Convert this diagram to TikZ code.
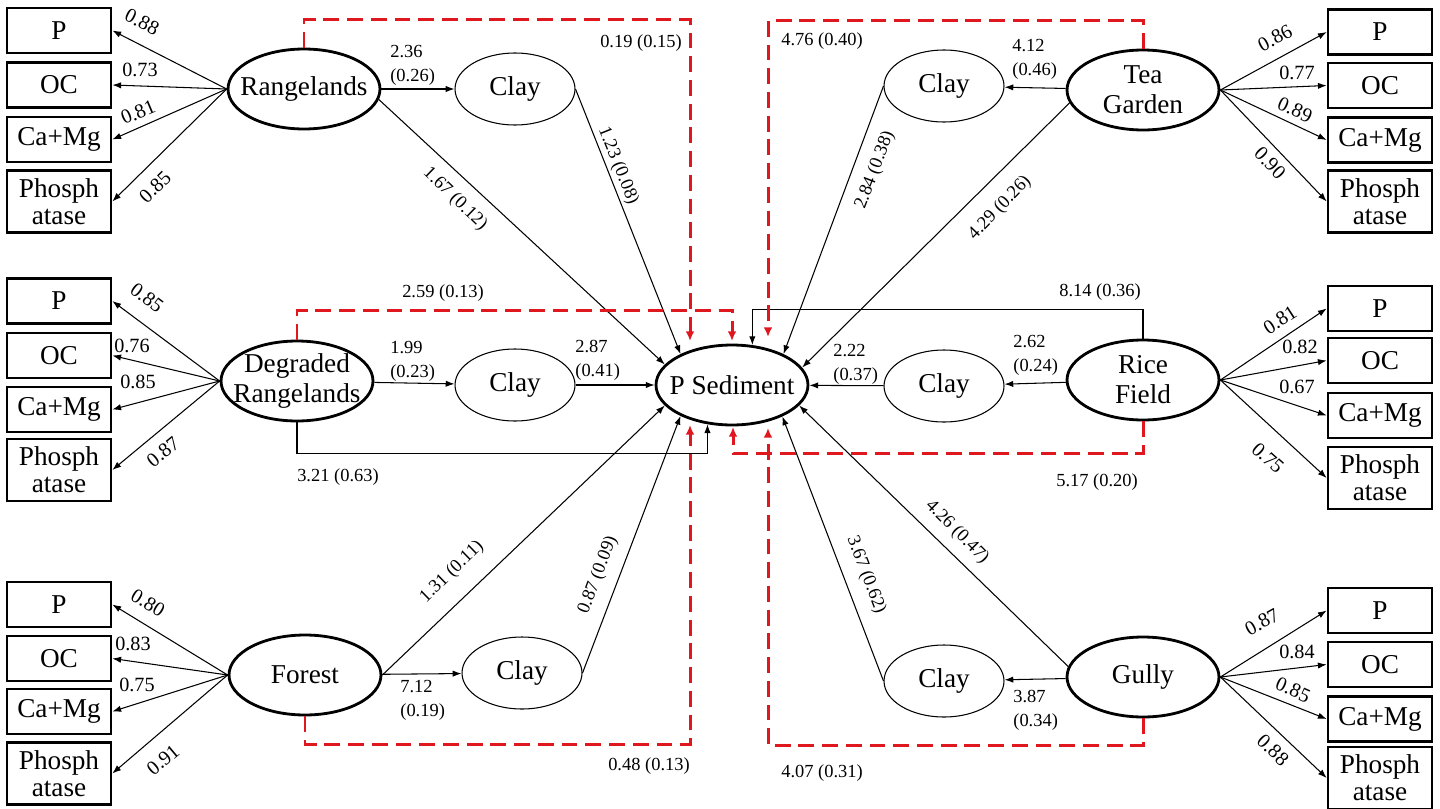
\documentclass[tikz,border=0pt]{standalone}
\usepackage{fontspec}
\setmainfont{Liberation Serif}
\usetikzlibrary{shapes.geometric,arrows.meta}
\definecolor{rd}{RGB}{222,24,30}
\newcommand{\bigfnt}{\fontsize{15.5}{17}\selectfont}
\newcommand{\indfnt}{\fontsize{15.5}{15.3}\selectfont}
\newcommand{\labfnt}{\fontsize{10.5}{13.6}\selectfont}
\newcommand{\ldfnt}{\fontsize{11.5}{12}\selectfont}
\begin{document}
\begin{tikzpicture}[x=0.02cm, y=-0.02cm,
  lat/.style={ellipse, draw, line width=1.6pt, minimum width=3.04cm, minimum height=1.6cm, inner sep=0pt,
    label={[align=center, font=\bigfnt, inner sep=0pt]center:#1}},
  clay/.style={ellipse, draw, line width=0.6pt, minimum width=2.4cm, minimum height=1.44cm, inner sep=0pt, font=\bigfnt},
  ind/.style={draw, line width=1.5pt, minimum width=2.08cm, minimum height=0.9cm, inner sep=0pt, align=center, font=\indfnt},
  indp/.style={ind, minimum height=1.24cm},
  arr/.style={line width=0.6pt, -{Latex[length=5pt,width=3.6pt]}},
  rdash/.style={draw=rd, line width=1.7pt, dash pattern=on 9pt off 4.5pt, -{Latex[length=5.5pt,width=5pt]}},
  lab/.style={font=\labfnt, inner sep=0pt, align=left},
  ld/.style={font=\ldfnt, inner sep=0pt}]
\useasboundingbox (0,0) rectangle (1440,808);

% latent variables
\node[lat={Rangelands}] (rang) at (304,89) {};
\node[lat={Degraded\\Rangelands}] (degr) at (297,381) {};
\node[lat={Forest}] (forest) at (305,675) {};
\node[lat={Tea\\Garden}] (tea) at (1143,90) {};
\node[lat={Rice\\Field}] (rice) at (1143,380) {};
\node[lat={Gully}] (gully) at (1143,677) {};
\node[lat={P Sediment}] (psed) at (732,385) {};

% clay
\node[clay] (clayA) at (515,89) {Clay};
\node[clay] (clayB) at (515,385) {Clay};
\node[clay] (clayC) at (522,673) {Clay};
\node[clay] (clayD) at (944,86) {Clay};
\node[clay] (clayE) at (944,386) {Clay};
\node[clay] (clayF) at (944,681) {Clay};

% indicator boxes left
\node[ind] (aP) at (59,30.5) {P};
\node[ind] (aO) at (59,85) {OC};
\node[ind] (aC) at (59,139.5) {Ca+Mg};
\node[indp] (aH) at (59,201.5) {Phosph\\atase};
\node[ind] (bP) at (59,301) {P};
\node[ind] (bO) at (59,355.5) {OC};
\node[ind] (bC) at (59,409.5) {Ca+Mg};
\node[indp] (bH) at (59,470) {Phosph\\atase};
\node[ind] (cP) at (59,604.5) {P};
\node[ind] (cO) at (59,658.5) {OC};
\node[ind] (cC) at (59,711.5) {Ca+Mg};
\node[indp] (cH) at (59,773.5) {Phosph\\atase};
% indicator boxes right
\node[ind] (dP) at (1380,32) {P};
\node[ind] (dO) at (1380,85.5) {OC};
\node[ind] (dC) at (1380,140) {Ca+Mg};
\node[indp] (dH) at (1380,201.5) {Phosph\\atase};
\node[ind] (eP) at (1380,308.5) {P};
\node[ind] (eO) at (1380,360.5) {OC};
\node[ind] (eC) at (1380,415.5) {Ca+Mg};
\node[indp] (eH) at (1380,478) {Phosph\\atase};
\node[ind] (fP) at (1380,610.5) {P};
\node[ind] (fO) at (1380,664.5) {OC};
\node[ind] (fC) at (1380,719) {Ca+Mg};
\node[indp] (fH) at (1380,778) {Phosph\\atase};

% loadings
\foreach \b in {aP,aO,aC,aH} \draw[arr] (rang.west) -- (\b.east);
\foreach \b in {bP,bO,bC,bH} \draw[arr] (degr.west) -- (\b.east);
\foreach \b in {cP,cO,cC,cH} \draw[arr] (forest.west) -- (\b.east);
\foreach \b in {dP,dO,dC,dH} \draw[arr] (tea.east) -- (\b.west);
\foreach \b in {eP,eO,eC,eH} \draw[arr] (rice.east) -- (\b.west);
\foreach \b in {fP,fO,fC,fH} \draw[arr] (gully.east) -- (\b.west);

\node[ld, rotate=-27] at (142,22) {0.88};
\node[ld] at (140,70) {0.73};
\node[ld, rotate=23] at (138,112) {0.81};
\node[ld, rotate=44] at (155,187) {0.85};
\node[ld, rotate=-37] at (147,298) {0.85};
\node[ld] at (132,346) {0.76};
\node[ld] at (138,382) {0.85};
\node[ld, rotate=39] at (163,452) {0.87};
\node[ld, rotate=-31] at (148,603) {0.80};
\node[ld] at (133,644) {0.83};
\node[ld] at (137,685) {0.75};
\node[ld, rotate=40] at (163,760) {0.91};
\node[ld, rotate=28] at (1275,38) {0.86};
\node[ld] at (1297,73) {0.77};
\node[ld, rotate=-24] at (1295,110) {0.89};
\node[ld, rotate=-46] at (1270,163) {0.90};
\node[ld, rotate=33] at (1280,320) {0.81};
\node[ld] at (1300,347) {0.82};
\node[ld] at (1297,387) {0.67};
\node[ld, rotate=-42] at (1268,458) {0.75};
\node[ld, rotate=29] at (1262,622) {0.87};
\node[ld] at (1297,652) {0.84};
\node[ld, rotate=-24] at (1293,690) {0.85};
\node[ld, rotate=-44] at (1273,750) {0.88};

% structural paths
\draw[arr] (rang) -- (clayA);
\draw[arr] (degr) -- (clayB);
\draw[arr] (forest) -- (clayC);
\draw[arr] (tea) -- (clayD);
\draw[arr] (rice) -- (clayE);
\draw[arr] (gully) -- (clayF);
\draw[arr] (clayB) -- (psed);
\draw[arr] (clayE) -- (psed);
\draw[arr] (rang.-8) -- (psed.163);
\draw[arr] (clayA.east) -- (psed.149);
\draw[arr] (clayD.west) -- (psed.31);
\draw[arr] (tea.190) -- (psed.14);
\draw[arr] (forest.east) -- (psed.197);
\draw[arr] (clayC.east) -- (psed.211);
\draw[arr] (clayF.west) -- (psed.328);
\draw[arr] (gully.172) -- (psed.343);
\draw[arr] (degr.south) -- ++(0,31) -| (psed.238);
\draw[arr] (rice.north) -- ++(0,-29) -| (psed.63);

% red dashed paths
\coordinate (r1) at (690,341);
\coordinate (r2) at (732,341);
\coordinate (r3) at (768,337);
\coordinate (r4) at (733,427);
\coordinate (r5) at (690,425);
\coordinate (r6) at (768,428);
\draw[rdash] (rang.north) -- ++(0,-28) -| (r1);
\draw[rdash] (degr.north) -- ++(0,-29) -| (r2);
\draw[rdash] (tea.north) -- ++(0,-28) -| (r3);
\draw[rdash] (rice.south) -- ++(0,32) -| (r4);
\draw[rdash] (forest.south) -- ++(0,28) -| (r5);
\draw[rdash] (gully.south) -- ++(0,27) -| (r6);

% path labels
\node[lab, anchor=west] at (390,65) {2.36\\(0.26)};
\node[lab, anchor=west] at (390,361) {1.99\\(0.23)};
\node[lab, anchor=west] at (575,360) {2.87\\(0.41)};
\node[lab, anchor=west] at (400,700) {7.12\\(0.19)};
\node[lab, anchor=west] at (1012,59) {4.12\\(0.46)};
\node[lab, anchor=west] at (1013,355) {2.62\\(0.24)};
\node[lab, anchor=west] at (833,364) {2.22\\(0.37)};
\node[lab, anchor=west] at (1013,710) {3.87\\(0.34)};
\node[lab] at (641,43) {0.19 (0.15)};
\node[lab] at (822,41) {4.76 (0.40)};
\node[lab] at (443,293) {2.59 (0.13)};
\node[lab] at (338,477) {3.21 (0.63)};
\node[lab] at (1100,292) {8.14 (0.36)};
\node[lab] at (1097,482) {5.17 (0.20)};
\node[lab] at (649,766) {0.48 (0.13)};
\node[lab] at (822,773) {4.07 (0.31)};
\node[lab, rotate=-44] at (455,199) {1.67 (0.12)};
\node[lab, rotate=-68] at (618,166) {1.23 (0.08)};
\node[lab, rotate=69] at (875,170) {2.84 (0.38)};
\node[lab, rotate=46] at (1000,208) {4.29 (0.26)};
\node[lab, rotate=44] at (452,572) {1.31 (0.11)};
\node[lab, rotate=69] at (598,575) {0.87 (0.09)};
\node[lab, rotate=-69] at (866,575) {3.67 (0.62)};
\node[lab, rotate=-45] at (957,532) {4.26 (0.47)};
\end{tikzpicture}
\end{document}
